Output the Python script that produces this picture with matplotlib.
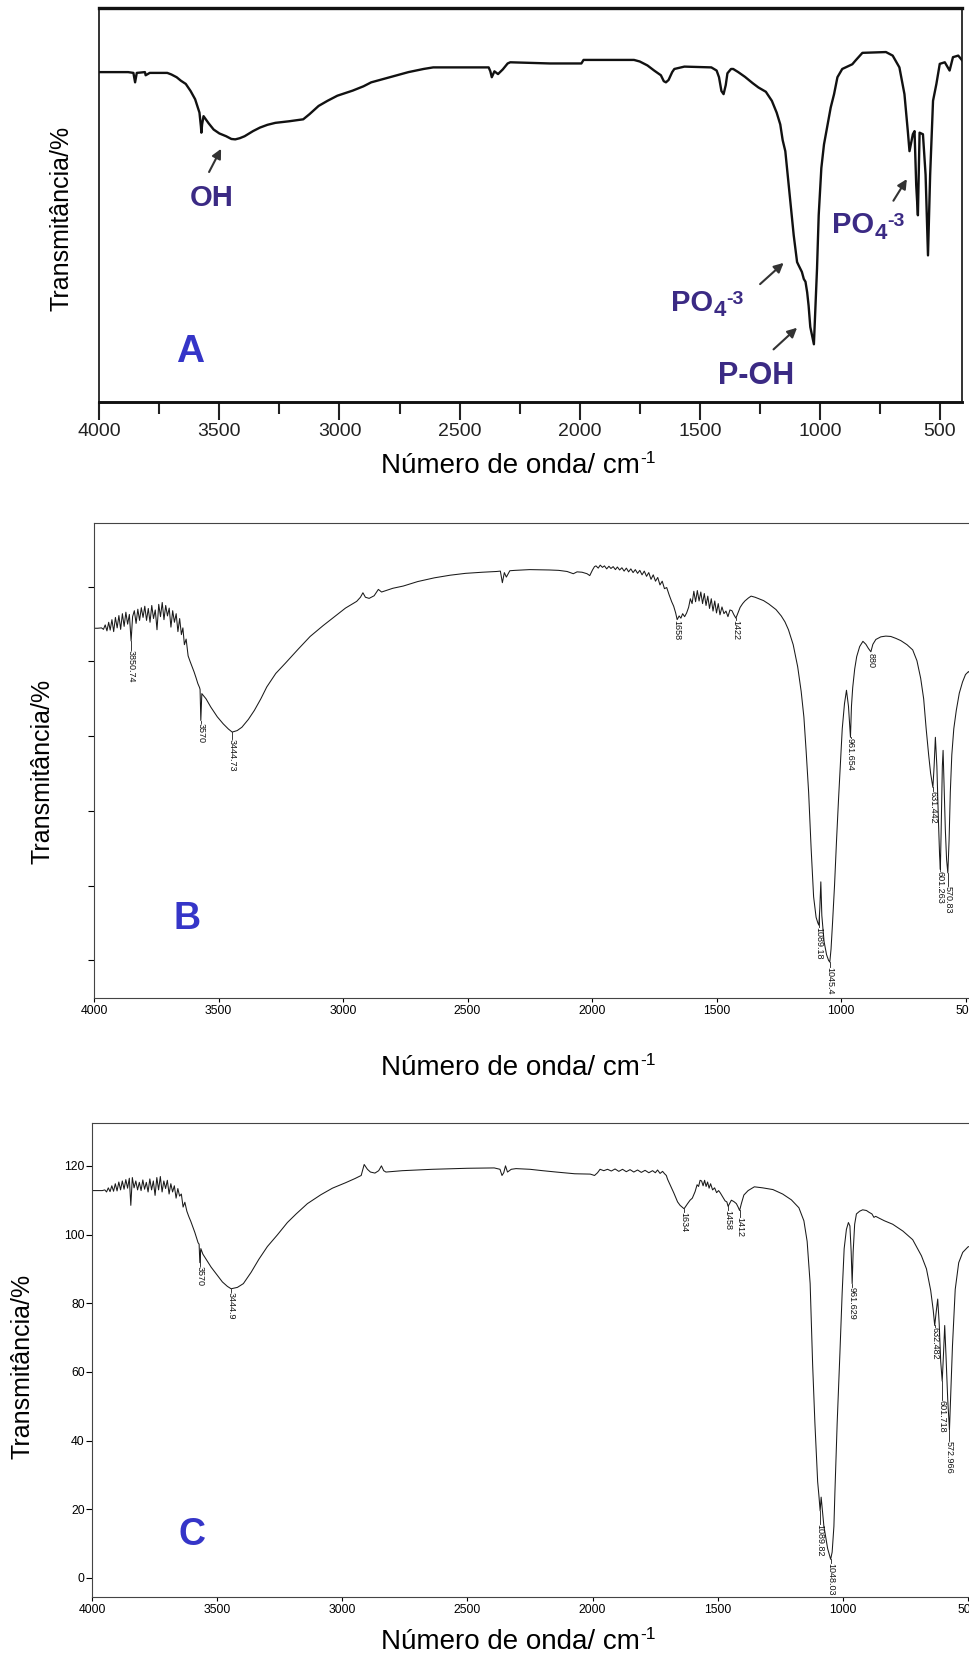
import matplotlib
matplotlib.use('Agg')
import matplotlib.pyplot as plt
from matplotlib.ticker import FixedLocator, NullFormatter

plt.rcParams['font.family'] = ['Liberation Sans', 'DejaVu Sans']

# ---------------- data ----------------
# Panel A (arbitrary transmittance scale 0-100, no y scale shown)
A_wn = [4000, 3880, 3858, 3851, 3844, 3810, 3807, 3790, 3717, 3700, 3678, 3660, 3640, 3620,
        3601, 3583, 3577, 3575, 3572, 3566, 3545, 3524, 3500, 3472, 3450, 3434, 3415, 3395,
        3360, 3331, 3300, 3267, 3210, 3151, 3125, 3087, 3050, 3009, 2945, 2900, 2868, 2791,
        2713, 2650, 2610, 2500, 2379, 2372, 2366, 2355, 2340, 2320, 2300, 2289, 2124, 1993,
        1984, 1774, 1750, 1718, 1690, 1662, 1650, 1641, 1630, 1615, 1606, 1564, 1452, 1430,
        1420, 1410, 1401, 1392, 1385, 1370, 1361, 1340, 1312, 1280, 1256, 1225, 1200, 1180,
        1165, 1155, 1144, 1137, 1123, 1109, 1095, 1088, 1075, 1067, 1060, 1053, 1047, 1040,
        1025, 1018, 1012, 1005, 994, 983, 970, 955, 941, 927, 907, 865, 851, 823, 725, 697,
        669, 648, 634, 627, 613, 606, 599, 592, 585, 571, 560, 550, 541, 529, 515, 501, 480,
        460, 446, 424, 408]
A_T = [83.8, 83.8, 83.6, 81.2, 83.6, 83.8, 83.0, 83.6, 83.6, 83.2, 82.5, 81.6, 80.8, 79.0,
       76.9, 73.5, 70.0, 68.4, 70.5, 72.6, 70.8, 69.2, 68.2, 67.5, 66.8, 66.7, 67.0, 67.5,
       68.8, 69.7, 70.4, 70.9, 71.3, 71.8, 73.1, 75.2, 76.5, 77.8, 79.1, 80.2, 81.2, 82.5,
       83.8, 84.6, 85.0, 85.0, 85.0, 84.0, 82.5, 84.0, 83.3, 84.5, 86.0, 86.3, 86.0, 86.0,
       86.9, 86.9, 86.5, 85.5, 84.2, 83.0, 81.5, 81.2, 81.8, 83.8, 84.6, 85.2, 85.0, 84.2,
       82.5, 79.0, 78.2, 80.5, 83.5, 84.6, 84.6, 83.8, 82.6, 81.0, 79.9, 78.8, 76.5, 73.5,
       70.5, 66.5, 63.7, 59.4, 50.9, 42.3, 35.5, 34.6, 33.0, 31.2, 30.5, 27.8, 24.4, 19.0,
       14.6, 25.0, 33.8, 47.4, 59.4, 65.4, 69.7, 74.8, 78.2, 82.5, 84.6, 85.8, 86.8, 88.7,
       88.9, 88.0, 85.0, 78.2, 68.8, 63.7, 68.0, 68.8, 55.0, 47.4, 68.4, 68.0, 57.7, 37.2,
       57.7, 76.5, 80.8, 85.9, 86.3, 84.2, 87.6, 88.0, 86.8]

# Panel B
B_wn = [4000, 3985, 3970, 3962, 3955, 3948, 3941, 3935, 3928, 3921, 3914, 3907, 3900, 3893,
        3886, 3879, 3872, 3865, 3858, 3851, 3845, 3838, 3831, 3824, 3817, 3810, 3803, 3796,
        3789, 3782, 3775, 3768, 3761, 3754, 3747, 3740, 3733, 3726, 3719, 3712, 3705, 3698,
        3691, 3684, 3677, 3670, 3663, 3656, 3649, 3643, 3637, 3630, 3622, 3614, 3606, 3598,
        3590, 3583, 3576, 3574, 3571, 3567, 3550, 3531, 3505, 3481, 3460, 3445, 3425, 3406,
        3380, 3356, 3330, 3306, 3270, 3232, 3180, 3132, 3080, 3032, 2990, 2945, 2930, 2920,
        2910, 2895, 2875, 2858, 2845, 2800, 2758, 2700, 2633, 2570, 2508, 2440, 2383, 2368,
        2360, 2352, 2344, 2330, 2309, 2250, 2170, 2134, 2100, 2075, 2060, 2040, 2020, 2009,
        1998, 1990, 1984, 1975, 1967, 1958, 1950, 1941, 1932, 1924, 1915, 1906, 1898, 1889,
        1880, 1871, 1862, 1853, 1844, 1835, 1826, 1817, 1808, 1799, 1790, 1781, 1772, 1763,
        1754, 1745, 1736, 1727, 1718, 1709, 1700, 1690, 1680, 1672, 1664, 1658, 1650, 1643,
        1636, 1628, 1620, 1612, 1605, 1598, 1591, 1584, 1577, 1570, 1563, 1556, 1549, 1542,
        1535, 1528, 1521, 1514, 1507, 1500, 1493, 1486, 1478, 1470, 1462, 1454, 1446, 1438,
        1430, 1422, 1414, 1405, 1395, 1386, 1372, 1361, 1345, 1330, 1311, 1290, 1261, 1240,
        1225, 1211, 1192, 1174, 1160, 1149, 1140, 1130, 1120, 1110, 1100, 1093, 1089, 1085,
        1081, 1077, 1068, 1058, 1050, 1045, 1040, 1034, 1026, 1018, 1010, 1003, 995, 986,
        978, 970, 962, 958, 953, 945, 937, 925, 912, 900, 890, 880, 872, 860, 840, 820, 800,
        780, 760, 735, 712, 695, 680, 668, 658, 648, 640, 631, 626, 621, 615, 609, 604, 601,
        598, 593, 590, 586, 581, 576, 571, 566, 561, 555, 547, 537, 525, 512, 500, 488, 478,
        468, 450, 430, 400]
B_T = [88.9, 88.9, 89.0, 88.6, 89.8, 88.2, 90.5, 88.4, 91.2, 88.0, 91.8, 89.0, 92.3, 88.6,
       92.8, 89.4, 93.2, 90.0, 92.6, 85.5, 92.0, 93.6, 90.2, 94.0, 91.0, 94.4, 91.8, 94.8,
       91.0, 94.2, 90.5, 95.0, 91.5, 93.8, 88.5, 95.3, 92.0, 95.8, 91.2, 95.0, 92.2, 94.3,
       89.2, 93.6, 90.5, 92.8, 88.0, 91.5, 87.2, 89.0, 84.5, 86.0, 81.5, 80.0, 78.6, 77.2,
       75.6, 74.1, 73.0, 72.5, 64.2, 71.4, 70.0, 67.8, 65.2, 63.3, 61.9, 61.1, 61.5, 62.4,
       64.5, 66.9, 70.0, 73.2, 76.8, 79.5, 83.3, 86.7, 89.6, 92.1, 94.3, 96.1, 97.2, 98.4,
       97.2, 96.9, 97.6, 99.3, 98.6, 99.6, 100.2, 101.4, 102.4, 103.1, 103.6, 103.9, 104.1, 104.2,
       101.1, 103.8, 102.6, 104.3, 104.4, 104.6, 104.5, 104.4, 104.1, 103.5, 104.0, 103.9, 103.5, 103.0,
       104.5, 105.4, 105.6, 105.0, 105.8, 105.2, 105.6, 104.8, 105.5, 104.9, 105.4, 104.6, 105.3, 104.5,
       105.1, 104.2, 105.0, 104.0, 104.8, 103.8, 104.6, 103.6, 104.4, 103.2, 104.2, 102.8, 103.8, 102.0,
       103.2, 101.5, 102.5, 100.5, 101.5, 99.5, 99.8, 97.8, 96.0, 94.8, 93.0, 91.2, 92.2, 91.6,
       92.8, 92.0, 93.0, 94.5, 96.8, 95.5, 98.8, 96.0, 99.0, 96.2, 98.6, 95.5, 98.2, 95.0,
       97.5, 94.2, 96.8, 93.5, 96.2, 93.0, 95.5, 92.5, 94.6, 92.8, 93.5, 92.0, 93.8, 93.6,
       92.5, 91.6, 93.0, 94.5, 95.5, 96.2, 97.0, 97.5, 97.2, 96.8, 96.3, 95.4, 93.9, 92.2,
       90.6, 88.5, 84.5, 78.6, 72.0, 65.1, 56.0, 45.0, 30.0, 17.0, 11.5, 10.0, 9.4, 14.0,
       21.0, 12.0, 5.0, 1.5, 0.0, -0.5, 3.0, 10.0, 20.0, 32.0, 43.0, 52.0, 62.0, 68.7,
       72.3, 68.0, 59.7, 68.0, 73.0, 78.0, 81.3, 84.0, 85.4, 84.6, 83.5, 82.6, 84.6, 85.9, 86.6, 86.8, 86.7,
       86.2, 85.6, 84.5, 83.1, 80.2, 75.5, 70.0, 62.0, 55.0, 50.0, 46.3, 52.0, 59.7, 52.0, 38.0, 28.0, 24.3,
       34.0, 52.0, 56.2, 47.0, 35.0, 27.0, 23.4, 32.0, 45.0, 55.0, 62.0, 66.9, 71.5, 74.5, 76.5, 77.3, 76.6,
       76.0, 76.5, 77.0, 77.0]
B_lab_wn = [3850.74, 3570, 3444.73, 1658, 1422, 1089.18, 1045.4, 961.654, 880, 631.442, 601.263, 570.83]
B_lab_txt = ['3850.74', '3570', '3444.73', '1658', '1422', '1089.18', '1045.4', '961.654', '880',
             '631.442', '601.263', '570.83']
B_lab_curve = [85.5, 64.2, 61.1, 91.2, 91.6, 12.0, -0.5, 59.7, 82.6, 46.3, 24.3, 23.4]
B_lab_text = [83.1, 63.6, 59.3, 91.0, 91.2, 8.8, -1.9, 59.4, 82.3, 45.4, 24.0, 19.8]

# Panel C
C_wn = [4000, 3960, 3950, 3943, 3936, 3929, 3922, 3915, 3908, 3901, 3894, 3887, 3880, 3873,
        3866, 3859, 3852, 3846, 3840, 3833, 3826, 3819, 3812, 3805, 3798, 3791, 3784, 3777,
        3770, 3763, 3756, 3749, 3742, 3735, 3728, 3721, 3714, 3707, 3700, 3693, 3686, 3679,
        3672, 3665, 3658, 3651, 3644, 3637, 3630, 3622, 3614, 3606, 3598, 3590, 3583, 3577,
        3573, 3570, 3566, 3558, 3545, 3525, 3507, 3480, 3460, 3445, 3420, 3396, 3365, 3334,
        3300, 3260, 3220, 3185, 3140, 3086, 3040, 2987, 2950, 2925, 2913, 2900, 2888, 2870,
        2855, 2844, 2835, 2826, 2760, 2700, 2641, 2500, 2393, 2370, 2362, 2355, 2348, 2340,
        2325, 2306, 2250, 2200, 2145, 2071, 2009, 1992, 1980, 1970, 1955, 1940, 1925, 1910,
        1895, 1880, 1865, 1850, 1835, 1820, 1805, 1790, 1775, 1760, 1749, 1740, 1730, 1720,
        1712, 1705, 1700, 1690, 1675, 1660, 1650, 1634, 1625, 1620, 1610, 1601, 1590, 1582,
        1576, 1570, 1564, 1558, 1552, 1546, 1540, 1534, 1528, 1520, 1512, 1504, 1496, 1489,
        1480, 1470, 1463, 1458, 1452, 1445, 1435, 1425, 1418, 1412, 1405, 1395, 1378, 1353,
        1320, 1279, 1240, 1205, 1175, 1155, 1142, 1130, 1120, 1111, 1100, 1095, 1090, 1086,
        1075, 1060, 1048, 1042, 1035, 1031, 1022, 1011, 1002, 994, 985, 977, 971, 966, 962,
        958, 952, 945, 932, 920, 905, 895, 883, 875, 868, 855, 833, 800, 759, 720, 685, 665,
        648, 638, 632, 626, 620, 614, 608, 602, 597, 592, 587, 580, 573, 567, 561, 550, 536,
        520, 499, 480, 460]
C_T = [112.8, 112.8, 113.0, 112.4, 113.6, 112.5, 114.2, 112.6, 114.8, 112.7, 115.3, 113.0, 115.6, 113.2,
       116.0, 113.5, 116.4, 108.5, 116.6, 113.6, 115.6, 113.0, 115.2, 112.8, 115.9, 113.2, 115.2, 112.4,
       116.2, 113.0, 115.6, 111.4, 116.6, 113.0, 116.9, 112.4, 115.6, 113.4, 115.8, 111.8, 114.8, 112.4,
       114.2, 110.6, 113.4, 111.2, 111.8, 108.0, 109.4, 106.8, 105.2, 103.8, 102.2, 100.6, 99.0, 97.6,
       97.2, 91.8, 95.9, 94.3, 92.8, 90.5, 88.8, 86.2, 84.9, 84.2, 84.6, 85.7, 89.0, 92.8,
       96.5, 99.9, 103.5, 106.0, 109.0, 111.6, 113.5, 115.1, 116.3, 117.2, 120.4, 119.0, 118.2, 117.9,
       118.6, 120.0, 118.6, 118.2, 118.6, 118.8, 119.0, 119.3, 119.4, 119.0, 117.2, 118.0, 120.0, 118.2,
       119.0, 119.2, 119.0, 118.6, 118.2, 117.7, 117.6, 117.2, 118.0, 119.0, 118.6, 119.0, 118.5, 119.1,
       118.4, 119.0, 118.3, 118.9, 118.2, 118.8, 118.1, 118.7, 118.0, 118.6, 118.0, 118.8, 117.8, 118.4,
       117.7, 117.2, 116.1, 114.5, 112.1, 109.5, 108.5, 107.5, 108.5, 109.0, 110.0, 110.6, 112.5, 114.5,
       114.0, 115.8, 115.6, 114.2, 115.8, 114.0, 115.3, 113.5, 114.8, 113.0, 113.6, 112.2, 112.8, 112.1,
       111.0, 109.8, 109.5, 108.2, 109.0, 110.0, 109.6, 109.0, 108.0, 107.0, 109.0, 111.5, 112.8, 113.9,
       113.6, 113.1, 111.8, 110.1, 107.8, 104.0, 98.0, 85.7, 62.0, 45.1, 28.0, 24.0, 19.5, 23.5,
       15.0, 8.5, 5.4, 7.5, 15.0, 24.9, 45.0, 65.4, 83.0, 95.9, 101.5, 103.5, 102.5, 95.0, 85.7,
       95.0, 103.0, 106.0, 106.8, 107.2, 107.0, 106.5, 106.0, 105.0, 105.3, 104.8, 104.0, 103.0, 101.0, 98.5, 93.8, 90.0,
       83.7, 78.0, 73.5, 77.5, 81.2, 74.0, 63.0, 57.3, 65.0, 73.5, 65.0, 52.0, 43.1, 55.0, 67.5, 84.0, 91.8,
       94.8, 96.4, 96.8, 96.5]
C_lab_wn = [3570, 3444.9, 1634, 1458, 1412, 1089.82, 1048.03, 961.629, 632.482, 601.718, 572.966]
C_lab_txt = ['3570', '3444.9', '1634', '1458', '1412', '1089.82', '1048.03', '961.629',
             '632.482', '601.718', '572.966']
C_lab_curve = [95.5, 84.2, 107.5, 108.2, 107.0, 19.5, 5.4, 85.7, 73.5, 57.3, 43.1]
C_lab_text = [90.8, 83.2, 106.5, 107.0, 105.2, 15.8, 4.2, 84.7, 73.0, 51.7, 40.0]

C_yticks = [0, 20, 40, 60, 80, 100, 120]
x_major = [4000, 3500, 3000, 2500, 2000, 1500, 1000, 500]
x_minor = [3750, 3250, 2750, 2250, 1750, 1250, 750]

# ---------------- layout ----------------
W, H = 970, 1655
fig = plt.figure(figsize=(W / 100, H / 100), dpi=100)


def box(l, t, r, b):
    return [l / W, 1 - b / H, (r - l) / W, (b - t) / H]


purple = '#3b2a84'
blue = '#3535c8'


def po4(ax, x, y):
    """'PO' with subscript 4 and superscript -3 (plain hyphen)."""
    kw = dict(fontweight='bold', color=purple, annotation_clip=False)
    t1 = ax.text(x, y, 'PO', ha='left', va='baseline', fontsize=21, fontweight='bold', color=purple)
    t2 = ax.annotate('4', xy=(1, 0), xycoords=t1, xytext=(0.5, 0.5), textcoords='offset points',
                     ha='left', va='baseline', fontsize=16, **kw)
    ax.annotate('-3', xy=(1, 1), xycoords=(t2, t1), xytext=(0.3, -1.5), textcoords='offset points',
                ha='left', va='top', fontsize=14, **kw)


def xlabel(y_px):
    t = fig.text(510 / W, 1 - y_px / H, 'Número de onda/ cm', ha='center', va='baseline', fontsize=20)
    axA.annotate('-1', xy=(1, 1), xycoords=t, xytext=(0.5, 1.5), textcoords='offset points',
                 ha='left', va='top', fontsize=12.5, annotation_clip=False)


# ---- Panel A ----
axA = fig.add_axes(box(99.3, 8.4, 962, 401.7))
axA.plot(A_wn, A_T, color='#111111', lw=1.7)
axA.set_xlim(4000, 408.4)
axA.set_ylim(0, 100)
axA.set_yticks([])
axA.xaxis.set_major_locator(FixedLocator(x_major))
axA.xaxis.set_minor_locator(FixedLocator(x_minor))
axA.set_xticklabels([str(v) for v in x_major])
axA.tick_params(axis='x', which='major', direction='out', length=13, width=1.5,
                labelsize=14, pad=2, colors='#222222')
axA.tick_params(axis='x', which='minor', direction='out', length=8.5, width=1.5, colors='#222222')
for s, lw in [('top', 2.4), ('bottom', 2.1), ('left', 1.2), ('right', 1.2)]:
    axA.spines[s].set_linewidth(lw)
    axA.spines[s].set_color('#111111')

axA.text(3622, 49.8, 'OH', ha='left', va='baseline', fontsize=21, fontweight='bold', color=purple)
po4(axA, 1620, 23.1)
axA.text(1424, 4.6, 'P-OH', ha='left', va='baseline', fontsize=22, fontweight='bold', color=purple)
po4(axA, 950, 42.8)
arrow = dict(arrowstyle='-|>', color='#333333', lw=1.5, mutation_scale=14, shrinkA=0, shrinkB=0)
axA.annotate('', xy=(3493, 64.3), xytext=(3543, 58.4), arrowprops=arrow)
axA.annotate('', xy=(1151, 35.3), xytext=(1249, 29.9), arrowprops=arrow)
axA.annotate('', xy=(1095, 18.8), xytext=(1193, 13.3), arrowprops=arrow)
axA.annotate('', xy=(638, 56.6), xytext=(694, 51.1), arrowprops=arrow)
axA.text(3622, 10.1, 'A', ha='center', va='baseline', fontsize=28, fontweight='bold', color=blue)

fig.text(62 / W, 1 - 218 / H, 'Transmitância/%', rotation=90, ha='center', va='center', fontsize=18)
xlabel(473)


def ir_panel(ax, wn, T, lab_wn, lab_txt, lab_curve, lab_text, yticks, ylabels):
    ax.plot(wn, T, color='#1a1a1a', lw=0.75)
    for w, t, yc, yt in zip(lab_wn, lab_txt, lab_curve, lab_text):
        if yc - yt > 0.3:
            ax.plot([w, w], [yc, yt], color='#1a1a1a', lw=0.6)
        ax.text(w, yt, t, rotation=270, ha='center', va='top', fontsize=6.5, color='#111111')
    ax.xaxis.set_major_locator(FixedLocator(x_major))
    ax.set_xticklabels([str(v) for v in x_major])
    ax.set_yticks(yticks)
    if ylabels:
        ax.set_yticklabels([str(v) for v in yticks])
    else:
        ax.yaxis.set_major_formatter(NullFormatter())
    ax.tick_params(axis='x', direction='out', length=2.8, width=0.8, labelsize=8.8, pad=2.5)
    ax.tick_params(axis='y', direction='out', length=4.5, width=0.8, labelsize=8.8, pad=1)
    ax.spines['right'].set_visible(False)
    for s in ('top', 'bottom', 'left'):
        ax.spines[s].set_linewidth(0.8)
        ax.spines[s].set_color('#444444')


# ---- Panel B ----
axB = fig.add_axes(box(94, 523.3, 970, 998))
ir_panel(axB, B_wn, B_T, B_lab_wn, B_lab_txt, B_lab_curve, B_lab_text, [0, 20, 40, 60, 80, 100], False)
axB.set_xlim(4000, 4000 - (970 - 94) / 0.249)
axB.set_ylim(-10.1, 117)
axB.text(3626, 8.4, 'B', ha='center', va='baseline', fontsize=27, fontweight='bold', color=blue)
fig.text(43 / W, 1 - 771.5 / H, 'Transmitância/%', rotation=90, ha='center', va='center', fontsize=18)
xlabel(1075)

# ---- Panel C ----
axC = fig.add_axes(box(92.3, 1123.3, 970, 1596.7))
ir_panel(axC, C_wn, C_T, C_lab_wn, C_lab_txt, C_lab_curve, C_lab_text, C_yticks, True)
axC.set_xlim(4000, 4000 - (970 - 92.3) / 0.25012)
axC.set_ylim(-5.5, 132.4)
axC.text(3601, 9.5, 'C', ha='center', va='baseline', fontsize=27, fontweight='bold', color=blue)
fig.text(23 / W, 1 - 1366 / H, 'Transmitância/%', rotation=90, ha='center', va='center', fontsize=18)
xlabel(1649)

fig.savefig('out.png', dpi=100)
